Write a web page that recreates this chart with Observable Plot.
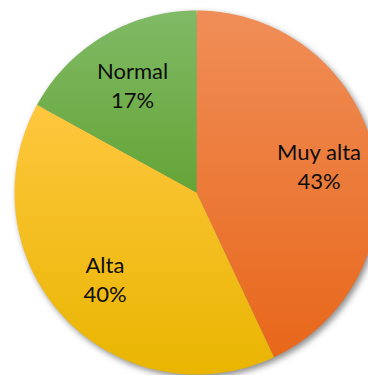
<!DOCTYPE html>
<html><head><meta charset="utf-8">
<script src="https://cdn.jsdelivr.net/npm/d3@7"></script>
<script src="https://cdn.jsdelivr.net/npm/@observablehq/plot@0.6"></script>
<style>body{margin:0;background:#fff;}</style>
</head><body><div id="chart"></div>
<script>
// Data
const categories = ["Muy alta", "Alta", "Normal"];
const values = [43, 40, 17];
const percentLabels = ["43%", "40%", "17%"];

// Styles
const gradTop = ["#F08E58", "#FEC73F", "#80BA66"];
const gradBottom = ["#E8671A", "#E9B500", "#64A536"];

const data = categories.map((c, i) => ({name: c, value: values[i], pct: percentLabels[i], i}));
const arcs = d3.pie().sort(null).value(d => d.value).startAngle(0).endAngle(2 * Math.PI)(data);

// Build slice outlines from pie angles (unit circle, y up)
const N = 240;
function slicePoints(a) {
  const pts = [{x: 0, y: 0, name: a.data.name}];
  const steps = Math.max(2, Math.ceil((a.endAngle - a.startAngle) / (2 * Math.PI) * N));
  for (let k = 0; k <= steps; k++) {
    const t = a.startAngle + (a.endAngle - a.startAngle) * k / steps;
    pts.push({x: Math.sin(t), y: Math.cos(t), name: a.data.name});
  }
  pts.push({x: 0, y: 0, name: a.data.name});
  return pts;
}
const circle = d3.range(0, N + 1).map(k => ({x: Math.sin(2 * Math.PI * k / N), y: Math.cos(2 * Math.PI * k / N)}));

const labelR = 0.69;
const labelData = arcs.map(a => {
  const m = (a.startAngle + a.endAngle) / 2;
  return {x: labelR * Math.sin(m), y: labelR * Math.cos(m), text: a.data.name + "\n" + a.data.pct};
});

const plot = Plot.plot({
  width: 368,
  height: 375,
  margin: 0,
  x: {domain: [-1, 1], range: [14, 378], axis: null},
  y: {domain: [-1, 1], range: [374, 10], axis: null},
  marks: [
    Plot.line(circle, {x: "x", y: "y", fill: "#000", fillOpacity: 0.45, stroke: "none", curve: "linear-closed", dx: 2.5, dy: 3, className: "pie-shadow"}),
    ...arcs.map((a, i) => Plot.line(slicePoints(a), {x: "x", y: "y", fill: `url(#grad${i})`, stroke: "none", curve: "linear-closed"})),
    Plot.text(labelData, {x: "x", y: "y", text: "text", fontSize: 22, fontFamily: "Lato, 'Open Sans', sans-serif", fill: "#0d0d0d", lineHeight: 1.32})
  ]
});

// gradients + shadow filter
const ns = "http://www.w3.org/2000/svg";
const defs = document.createElementNS(ns, "defs");
gradTop.forEach((c, i) => {
  const g = document.createElementNS(ns, "linearGradient");
  g.setAttribute("id", "grad" + i);
  g.setAttribute("x1", "0"); g.setAttribute("y1", "0");
  g.setAttribute("x2", "0"); g.setAttribute("y2", "1");
  [[0, c], [1, gradBottom[i]]].forEach(([o, col]) => {
    const s = document.createElementNS(ns, "stop");
    s.setAttribute("offset", o);
    s.setAttribute("stop-color", col);
    g.appendChild(s);
  });
  defs.appendChild(g);
});
const f = document.createElementNS(ns, "filter");
f.setAttribute("id", "blur");
f.setAttribute("x", "-20%"); f.setAttribute("y", "-20%");
f.setAttribute("width", "140%"); f.setAttribute("height", "140%");
const fb = document.createElementNS(ns, "feGaussianBlur");
fb.setAttribute("stdDeviation", "3");
f.appendChild(fb);
defs.appendChild(f);
plot.insertBefore(defs, plot.firstChild);
const sh = plot.querySelector(".pie-shadow");
if (sh) sh.setAttribute("filter", "url(#blur)");

document.getElementById("chart").appendChild(plot);
</script>
</body></html>
